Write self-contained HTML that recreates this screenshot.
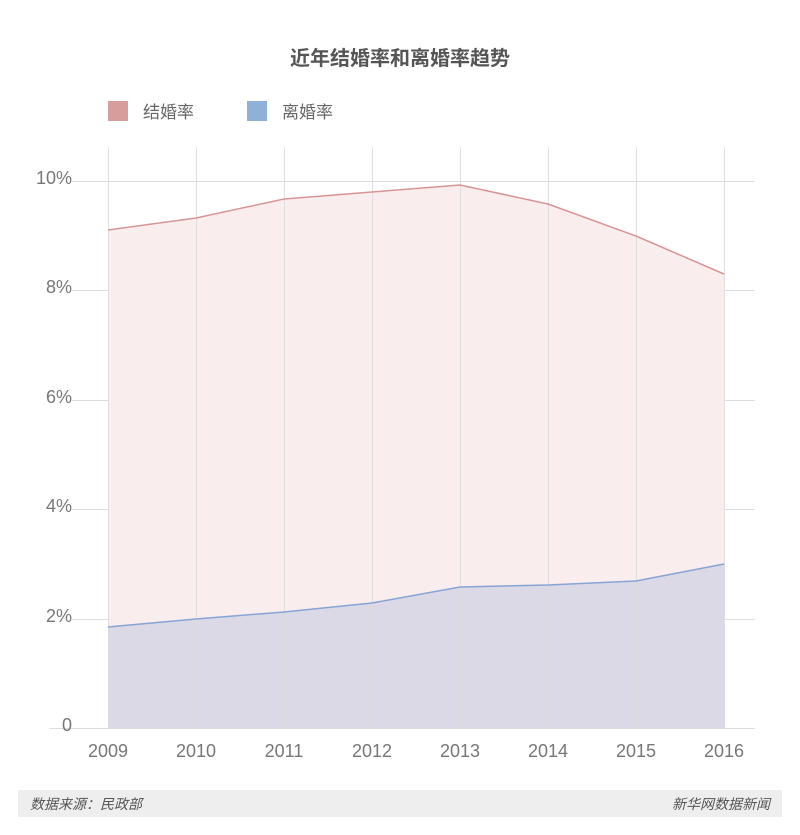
<!DOCTYPE html>
<html><head><meta charset="utf-8"><style>
body{margin:0;background:#fff;width:800px;height:835px;overflow:hidden;font-family:"Liberation Sans","Noto Sans CJK SC",sans-serif}
</style></head><body>
<svg width="800" height="835" xmlns="http://www.w3.org/2000/svg" style="position:absolute;left:0;top:0">
<text x="400" y="65" text-anchor="middle" font-size="20" font-weight="bold" fill="#555" font-family="Liberation Sans, Noto Sans CJK SC, sans-serif">近年结婚率和离婚率趋势</text>
<rect x="108" y="101" width="20" height="20" fill="#d79c9c"/>
<text x="143" y="118" font-size="17" fill="#666" font-family="Liberation Sans, Noto Sans CJK SC, sans-serif">结婚率</text>
<rect x="247" y="101" width="20" height="20" fill="#8fb0d9"/>
<text x="282" y="118" font-size="17" fill="#666" font-family="Liberation Sans, Noto Sans CJK SC, sans-serif">离婚率</text>
<g stroke="#ddd" stroke-width="1">
<line x1="72" y1="181.5" x2="755" y2="181.5"/>
<line x1="72" y1="290.5" x2="755" y2="290.5"/>
<line x1="72" y1="400.5" x2="755" y2="400.5"/>
<line x1="72" y1="509.5" x2="755" y2="509.5"/>
<line x1="72" y1="619.5" x2="755" y2="619.5"/>
</g>
<polygon points="108,230 196,218 284,199 372,192 460,185 548,204 636,236 724,274 724,728 108,728" fill="#faeded"/>
<polygon points="108,627 196,619 284,612 372,603 460,587 548,585 636,581 724,564 724,728 108,728" fill="#dcd9e6"/>
<g stroke="#ddd" stroke-width="1" opacity="0.9">
<line x1="108.5" y1="147" x2="108.5" y2="728"/>
<line x1="196.5" y1="147" x2="196.5" y2="728"/>
<line x1="284.5" y1="147" x2="284.5" y2="728"/>
<line x1="372.5" y1="147" x2="372.5" y2="728"/>
<line x1="460.5" y1="147" x2="460.5" y2="728"/>
<line x1="548.5" y1="147" x2="548.5" y2="728"/>
<line x1="636.5" y1="147" x2="636.5" y2="728"/>
<line x1="724.5" y1="147" x2="724.5" y2="728"/>
</g>
<line x1="50" y1="728.5" x2="755" y2="728.5" stroke="#ddd"/>
<polyline points="108,230 196,218 284,199 372,192 460,185 548,204 636,236 724,274" fill="none" stroke="#d79596" stroke-width="1.5"/>
<polyline points="108,627 196,619 284,612 372,603 460,587 548,585 636,581 724,564" fill="none" stroke="#86a4d6" stroke-width="1.5"/>
<g font-size="18" fill="#777" text-anchor="end">
<text x="72" y="184">10%</text><text x="72" y="293">8%</text><text x="72" y="403">6%</text>
<text x="72" y="512">4%</text><text x="72" y="622">2%</text><text x="72" y="731">0</text>
</g>
<g font-size="18" fill="#777" text-anchor="middle">
<text x="108" y="757">2009</text><text x="196" y="757">2010</text><text x="284" y="757">2011</text><text x="372" y="757">2012</text>
<text x="460" y="757">2013</text><text x="548" y="757">2014</text><text x="636" y="757">2015</text><text x="724" y="757">2016</text>
</g>
<rect x="18" y="790" width="764" height="27" fill="#eeeeee"/>
<text x="30" y="809" font-size="14" font-style="italic" fill="#555" font-family="Liberation Sans, Noto Sans CJK SC, sans-serif">数据来源：民政部</text>
<text x="770" y="809" font-size="14" font-style="italic" fill="#555" text-anchor="end" font-family="Liberation Sans, Noto Sans CJK SC, sans-serif">新华网数据新闻</text>
</svg>
</body></html>
